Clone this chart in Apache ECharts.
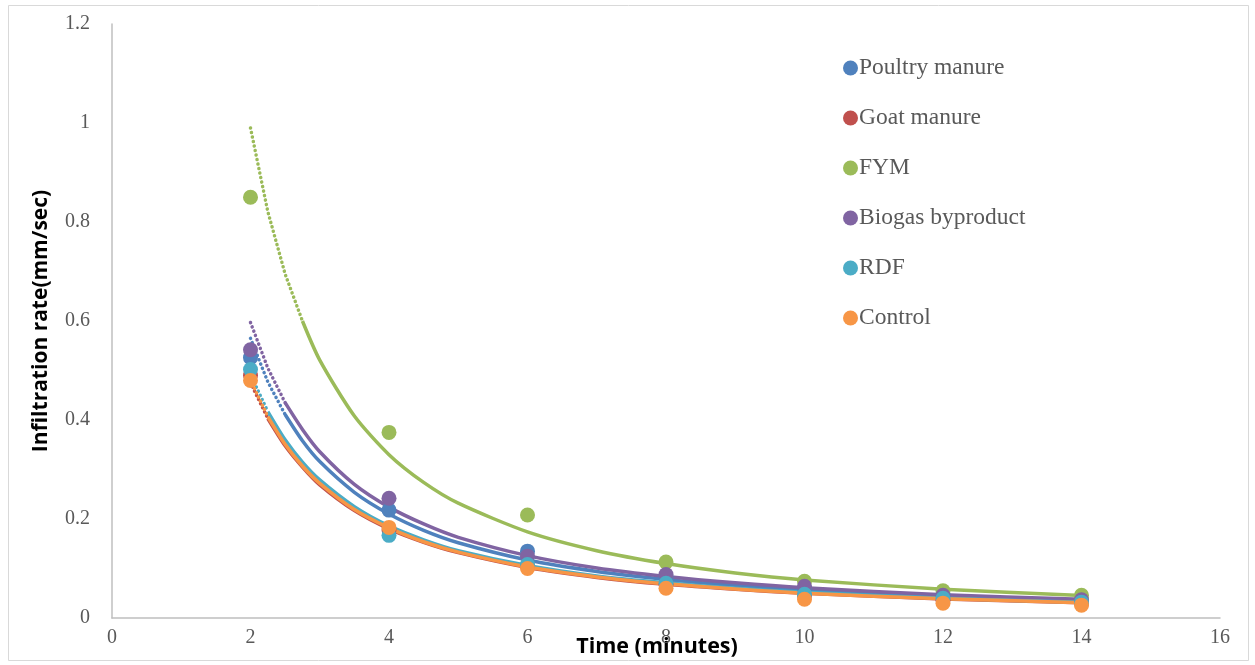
<!DOCTYPE html>
<html>
<head>
<meta charset="utf-8">
<script src="https://cdn.jsdelivr.net/npm/echarts@6/dist/echarts.min.js"></script>
<style>
html,body{margin:0;padding:0;background:#fff;}
#chart{width:1255px;height:665px;}
</style>
</head>
<body>
<div id="chart"></div>
<script>
// Measured data points (time in minutes)
const times = [2, 4, 6, 8, 10, 12, 14];
const seriesNames = ['Poultry manure', 'Goat manure', 'FYM', 'Biogas byproduct', 'RDF', 'Control'];
const colors = ['#4F81BD', '#C0504D', '#9BBB59', '#8064A2', '#4BACC6', '#F79646'];
const poultry = [0.526, 0.218, 0.135, 0.083, 0.060, 0.048, 0.036];
const goat    = [0.490, 0.178, 0.105, 0.068, 0.045, 0.036, 0.030];
const fym     = [0.850, 0.375, 0.208, 0.113, 0.074, 0.055, 0.046];
const biogas  = [0.542, 0.242, 0.125, 0.088, 0.064, 0.046, 0.037];
const rdf     = [0.502, 0.167, 0.108, 0.070, 0.048, 0.040, 0.032];
const control = [0.480, 0.183, 0.100, 0.060, 0.038, 0.030, 0.026];
const pointData = [poultry, goat, fym, biogas, rdf, control];

// Trendline values
const trendX = [2, 2.25, 2.5, 2.75, 3, 3.5, 4, 4.5, 5, 6, 7, 8, 9, 10, 12, 14];
const poultryTrend = [0.565, 0.477, 0.411, 0.358, 0.316, 0.254, 0.210, 0.177, 0.152, 0.117, 0.094, 0.078, 0.066, 0.057, 0.044, 0.035];
const goatTrend    = [0.475, 0.403, 0.348, 0.305, 0.269, 0.217, 0.180, 0.153, 0.132, 0.102, 0.082, 0.068, 0.058, 0.050, 0.0385, 0.031];
const fymTrend     = [0.990, 0.821, 0.695, 0.600, 0.521, 0.408, 0.330, 0.274, 0.232, 0.174, 0.136, 0.110, 0.091, 0.077, 0.058, 0.0455];
const biogasTrend  = [0.597, 0.505, 0.435, 0.381, 0.336, 0.270, 0.224, 0.190, 0.163, 0.126, 0.101, 0.084, 0.071, 0.061, 0.047, 0.038];
const rdfTrend     = [0.492, 0.417, 0.360, 0.315, 0.279, 0.225, 0.186, 0.158, 0.136, 0.106, 0.085, 0.071, 0.060, 0.052, 0.040, 0.032];
const controlTrend = [0.480, 0.407, 0.351, 0.307, 0.272, 0.219, 0.182, 0.154, 0.133, 0.103, 0.083, 0.069, 0.0585, 0.050, 0.039, 0.031];
const trendData = [poultryTrend, goatTrend, fymTrend, biogasTrend, rdfTrend, controlTrend];
const dottedCount = [3, 2, 4, 3, 2, 2]; // leading points rendered dotted (steep part)

const xTitle = 'Time (minutes)';
const yTitle = 'Infiltration rate(mm/sec)';

const series = [];
seriesNames.forEach((name, i) => {
  const pts = trendX.map((x, k) => [x, trendData[i][k]]);
  const n = dottedCount[i];
  series.push({
    name: name + ' trend', type: 'line', smooth: false, symbol: 'none', silent: true,
    data: pts.slice(0, n),
    lineStyle: { color: colors[i], width: 3.5, type: [0.1, 4.5], cap: 'round' },
    z: 2 + i * 0.01
  });
  series.push({
    name: name + ' trend', type: 'line', smooth: 0.25, symbol: 'none', silent: true,
    data: pts.slice(n - 1),
    lineStyle: { color: colors[i], width: 3.5, join: 'round' },
    z: 2 + i * 0.01
  });
});
seriesNames.forEach((name, i) => {
  series.push({
    name: name, type: 'scatter', symbol: 'circle', symbolSize: 15,
    itemStyle: { color: colors[i], opacity: 1 },
    data: times.map((t, k) => [t, pointData[i][k]]),
    z: 3 + i * 0.01
  });
});

const chart = echarts.init(document.getElementById('chart'));
chart.setOption({
  animation: false,
  backgroundColor: '#ffffff',
  color: colors,
  graphic: [{
    type: 'rect', shape: { x: 8.5, y: 5.5, width: 1240, height: 655 },
    style: { fill: 'none', stroke: '#D9D9D9', lineWidth: 1 }, silent: true, z: -1
  }],
  grid: { left: 112, right: 35, top: 24, bottom: 47, containLabel: false, outerBoundsMode: 'none' },
  legend: {
    data: seriesNames.map(n => ({ name: n, icon: 'circle' })),
    orient: 'vertical', left: 838, top: 51,
    itemWidth: 15, itemHeight: 15, itemGap: 26,
    textStyle: { fontFamily: 'Liberation Serif', fontSize: 23.5, color: '#595959', lineHeight: 21, padding: [0, 0, 0, -4] }
  },
  xAxis: {
    type: 'value', min: 0, max: 16, interval: 2,
    name: xTitle, nameLocation: 'middle', nameGap: 18, nameMoveOverlap: false,
    nameTextStyle: { fontFamily: 'Open Sans', fontWeight: 'bold', fontSize: 21.5, color: '#000', padding: [0, 18, 0, 0] },
    axisLine: { show: true, lineStyle: { color: '#BFBFBF', width: 1.5 } },
    axisTick: { show: false },
    splitLine: { show: false },
    axisLabel: { fontFamily: 'Liberation Serif', fontSize: 20, color: '#595959', margin: 10 }
  },
  yAxis: {
    type: 'value', min: 0, max: 1.2, interval: 0.2,
    name: yTitle, nameLocation: 'middle', nameGap: 60, nameRotate: 90, nameMoveOverlap: false,
    nameTextStyle: { fontFamily: 'Open Sans', fontWeight: 'bold', fontSize: 21, color: '#000' },
    axisLine: { show: true, lineStyle: { color: '#BFBFBF', width: 1.5 } },
    axisTick: { show: false },
    splitLine: { show: false },
    axisLabel: { fontFamily: 'Liberation Serif', fontSize: 20, color: '#595959', margin: 22,
      formatter: v => String(Math.round(v * 10) / 10) }
  },
  series: series
});
</script>
</body>
</html>
